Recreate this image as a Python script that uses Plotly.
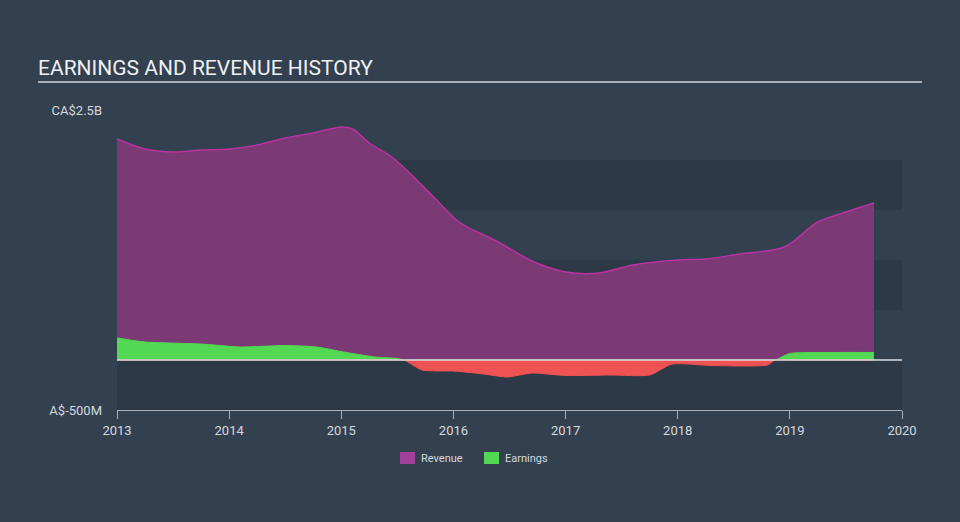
import plotly.graph_objects as go

# Revenue (CA$ billions)
rev_x = [2013.0, 2013.25, 2013.5, 2013.75, 2014.0, 2014.25, 2014.5, 2014.75, 2015.0, 2015.1,
         2015.25, 2015.45, 2015.6, 2015.85, 2016.05, 2016.4, 2016.7, 2017.0, 2017.3, 2017.6,
         2018.0, 2018.25, 2018.55, 2018.95, 2019.25, 2019.5, 2019.75]
rev_y = [2.21, 2.11, 2.08, 2.10, 2.11, 2.15, 2.22, 2.27, 2.33, 2.31,
         2.17, 2.03, 1.88, 1.60, 1.38, 1.18, 0.99, 0.88, 0.87, 0.95,
         1.00, 1.01, 1.06, 1.13, 1.38, 1.48, 1.57]

# Earnings (CA$ billions)
earn_x = [2013.0, 2013.25, 2013.75, 2014.1, 2014.5, 2014.78, 2015.02, 2015.3, 2015.5, 2015.56,
          2015.72, 2016.0, 2016.27, 2016.48, 2016.7, 2017.0, 2017.4, 2017.75, 2017.95, 2018.3,
          2018.8, 2018.87, 2019.0, 2019.4, 2019.75]
earn_y = [0.22, 0.18, 0.16, 0.13, 0.145, 0.13, 0.08, 0.03, 0.015, 0.0,
          -0.10, -0.11, -0.14, -0.17, -0.13, -0.155, -0.15, -0.15, -0.04, -0.055,
          -0.05, 0.0, 0.065, 0.075, 0.075]

year_ticks = [2013, 2014, 2015, 2016, 2017, 2018, 2019, 2020]
y_tickvals = [2.5, -0.5]
y_ticktext = ["CA$2.5B", "A$-500M"]
legend_names = ["Revenue", "Earnings"]

BG = "#334050"
BAND = "#2d3947"
REV_FILL = "rgba(123,58,118,1)"
REV_LINE = "#b8339f"
REV_LEGEND = "#a0409a"
GREEN = "#52d852"
RED = "#ee5252"
TXT = "#d5d9de"

earn_pos = [max(v, 0) for v in earn_y]
earn_neg = [min(v, 0) for v in earn_y]

fig = go.Figure()

fig.add_trace(go.Scatter(x=rev_x, y=rev_y, mode="lines", line=dict(color=REV_LINE, width=1.5, shape="spline", smoothing=0.9),
                         fill="tozeroy", fillcolor=REV_FILL, showlegend=False, hoverinfo="skip"))
fig.add_trace(go.Scatter(x=earn_x, y=earn_pos, mode="lines", line=dict(color=GREEN, width=1, shape="spline", smoothing=0.6),
                         fill="tozeroy", fillcolor=GREEN, showlegend=False, hoverinfo="skip"))
fig.add_trace(go.Scatter(x=earn_x, y=earn_neg, mode="lines", line=dict(color=RED, width=1, shape="spline", smoothing=0.6),
                         fill="tozeroy", fillcolor=RED, showlegend=False, hoverinfo="skip"))

W_PLOT, H_PLOT, L, T = 785, 300, 117, 110


def px_x(px):
    return (px - L) / W_PLOT


def px_y(py):
    return (T + H_PLOT - py) / H_PLOT


shapes = []
for y0, y1 in [(1.5, 2.0), (0.5, 1.0), (-0.5, 0.0)]:
    shapes.append(dict(type="rect", xref="paper", yref="y", x0=0, x1=1, y0=y0, y1=y1,
                       fillcolor=BAND, line=dict(width=0), layer="below"))
# zero line
shapes.append(dict(type="line", xref="paper", yref="y", x0=0, x1=1, y0=0, y1=0,
                   line=dict(color="#d8dde3", width=1.5), layer="above"))
# title underline
shapes.append(dict(type="line", xref="paper", yref="paper", x0=px_x(38), x1=px_x(922),
                   y0=px_y(82), y1=px_y(82), line=dict(color="#a9b0b8", width=2)))

annotations = [dict(text="EARNINGS AND REVENUE HISTORY", xref="paper", yref="paper",
                    x=px_x(36), y=px_y(68), xanchor="left", yanchor="middle",
                    showarrow=False, font=dict(size=21, color="#eef0f2"))]

# manual legend
leg_items = [(400, REV_LEGEND), (484, GREEN)]
for (lx, col), name in zip(leg_items, legend_names):
    shapes.append(dict(type="rect", xref="paper", yref="paper", x0=px_x(lx), x1=px_x(lx + 15),
                       y0=px_y(464), y1=px_y(452), fillcolor=col, line=dict(width=0)))
    annotations.append(dict(text=name, xref="paper", yref="paper", x=px_x(lx + 19), y=px_y(458),
                            xanchor="left", yanchor="middle", showarrow=False,
                            font=dict(size=11, color=TXT)))

fig.update_layout(
    width=960, height=522,
    paper_bgcolor=BG, plot_bgcolor=BG,
    margin=dict(l=117, r=58, t=110, b=112),
    font=dict(family="Roboto, sans-serif", color=TXT),
    shapes=shapes,
    showlegend=False,
    annotations=annotations,
)
fig.update_xaxes(range=[2013, 2020], tickvals=year_ticks, ticktext=[str(t) for t in year_ticks],
                 showgrid=False, zeroline=False, showline=True, linecolor="#a9b0b8", linewidth=1,
                 ticks="outside", ticklen=8, tickcolor="#a9b0b8", tickfont=dict(size=13, color=TXT))
fig.update_yaxes(range=[-0.5, 2.5], tickvals=y_tickvals, ticktext=y_ticktext, showgrid=False,
                 zeroline=False, showline=False, ticks="", ticklabelstandoff=14,
                 tickfont=dict(size=13, color=TXT))

fig.write_html("out.html")
